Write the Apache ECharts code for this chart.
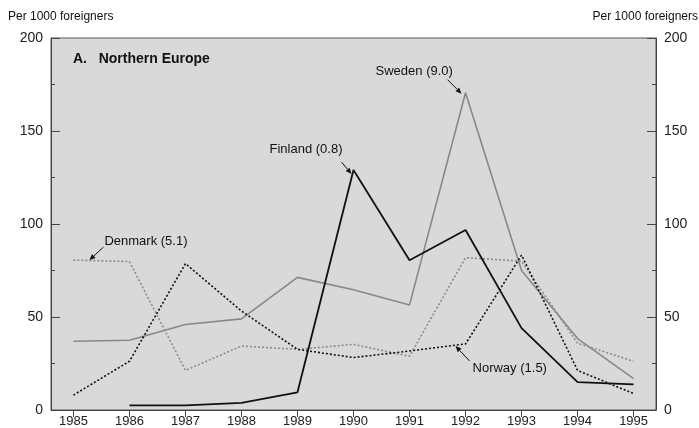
<!DOCTYPE html>
<html><head><meta charset="utf-8">
<script src="https://cdn.jsdelivr.net/npm/echarts@6/dist/echarts.min.js"></script>
<style>html,body{margin:0;padding:0;background:#fff}#c{width:699px;height:428px}</style>
</head><body><div id="c"></div>
<script>
const years = [1985,1986,1987,1988,1989,1990,1991,1992,1993,1994,1995];
const finland = [null,2.5,2.5,3.8,9.5,129,80.5,96.8,44,15,13.8];
const sweden  = [37,37.5,46,49,71.3,64.7,56.5,170.6,75,38.4,16.9];
const denmark = [80.6,79.8,21.3,34.4,32.6,35.3,28.9,81.9,80,35.9,26.2];
const norway  = [8,26.2,78.7,53.2,32.6,28.2,31.7,35.5,83.3,21.3,8.8];
const yTicks = [0,50,100,150,200];
const font = 'Liberation Sans, Arial, sans-serif';

const pairs = arr => years.map((y,i)=>[y,arr[i]]);
const chart = echarts.init(document.getElementById('c'));
const yAxisBase = (pos) => ({
  type:'value', position:pos, min:0, max:200, interval:50,
  axisLine:{show:true,lineStyle:{color:'#444',width:1}},
  axisTick:{show:true,inside:true,length:9,lineStyle:{color:'#444'}},
  minorTick:{show:true,splitNumber:2,length:4,lineStyle:{color:'#444'}},
  splitLine:{show:false},
  axisLabel:{color:'#222',fontSize:14,fontFamily:font,margin:8}
});
chart.setOption({
  animation:false,
  graphic:[],
  grid:{left:51,right:43,top:38,bottom:17,show:true,backgroundColor:'#d9d9d9',borderColor:'#555',borderWidth:1},
  xAxis:{type:'value',min:1984.6,max:1995.4,
    axisLine:{show:true,onZero:false,lineStyle:{color:'#444'}},
    axisTick:{show:true,length:7,customValues:years,lineStyle:{color:'#444'}},
    axisLabel:{customValues:years,color:'#222',fontSize:13,fontFamily:font,margin:5,formatter:v=>String(v)},
    splitLine:{show:false}},
  yAxis:[yAxisBase('left'),yAxisBase('right')],
  series:[
    {name:'Sweden',type:'line',data:pairs(sweden),symbol:'none',lineStyle:{color:'#888',width:1.6}},
    {name:'Denmark',type:'line',data:pairs(denmark),symbol:'none',lineStyle:{color:'#8c8c8c',width:1.6,type:[2,2]}},
    {name:'Norway',type:'line',data:pairs(norway),symbol:'none',lineStyle:{color:'#111',width:1.6,type:[2,2]}},
    {name:'Finland',type:'line',data:pairs(finland),symbol:'none',connectNulls:false,lineStyle:{color:'#111',width:1.8}}
  ]
});

function px(i,arr){return chart.convertToPixel({xAxisIndex:0,yAxisIndex:0},[years[i],arr[i]]);}
function arrow(x1,y1,x2,y2){
  const a=Math.atan2(y2-y1,x2-x1), L=6, W=2.6;
  const bx=x2-L*Math.cos(a), by=y2-L*Math.sin(a);
  return [
    {type:'line',shape:{x1,y1,x2:bx,y2:by},style:{stroke:'#111',lineWidth:1},z:100},
    {type:'polygon',shape:{points:[[x2,y2],[bx+W*Math.sin(a),by-W*Math.cos(a)],[bx-W*Math.sin(a),by+W*Math.cos(a)]]},style:{fill:'#111'},z:100}
  ];
}
const g=[];
const txt=(t,x,y,o)=>g.push(Object.assign({type:'text',x,y,style:{text:t,fontSize:13,fontFamily:font,fill:'#111',textVerticalAlign:'middle'},z:100},o||{}));
txt('Per 1000 foreigners',8,17,{style:{text:'Per 1000 foreigners',fontSize:12,fontFamily:font,fill:'#111',textVerticalAlign:'middle'}});
txt('Per 1000 foreigners',698,17,{style:{text:'Per 1000 foreigners',fontSize:12,fontFamily:font,fill:'#111',textVerticalAlign:'middle',textAlign:'right'}});
txt('A.   Northern Europe',73,59,{style:{text:'A.   Northern Europe',fontSize:14,fontWeight:'bold',fontFamily:font,fill:'#111',textVerticalAlign:'middle'}});
// Finland peak 1990
let p=px(5,finland); txt('Finland (0.8)',p[0]-84,p[1]-21); g.push(...arrow(p[0]-12,p[1]-8,p[0]-2,p[1]+4));
// Sweden peak 1992
p=px(7,sweden); txt('Sweden (9.0)',p[0]-90,p[1]-21); g.push(...arrow(p[0]-18,p[1]-13,p[0]-4,p[1]+1));
// Denmark 1985
p=px(0,denmark); txt('Denmark (5.1)',p[0]+31,p[1]-19); g.push(...arrow(p[0]+30,p[1]-13,p[0]+16,p[1]));
// Norway 1992
p=px(7,norway); txt('Norway (1.5)',p[0]+7,p[1]+24); g.push(...arrow(p[0]+4,p[1]+17,p[0]-10,p[1]+2));
chart.setOption({graphic:g});
</script></body></html>
